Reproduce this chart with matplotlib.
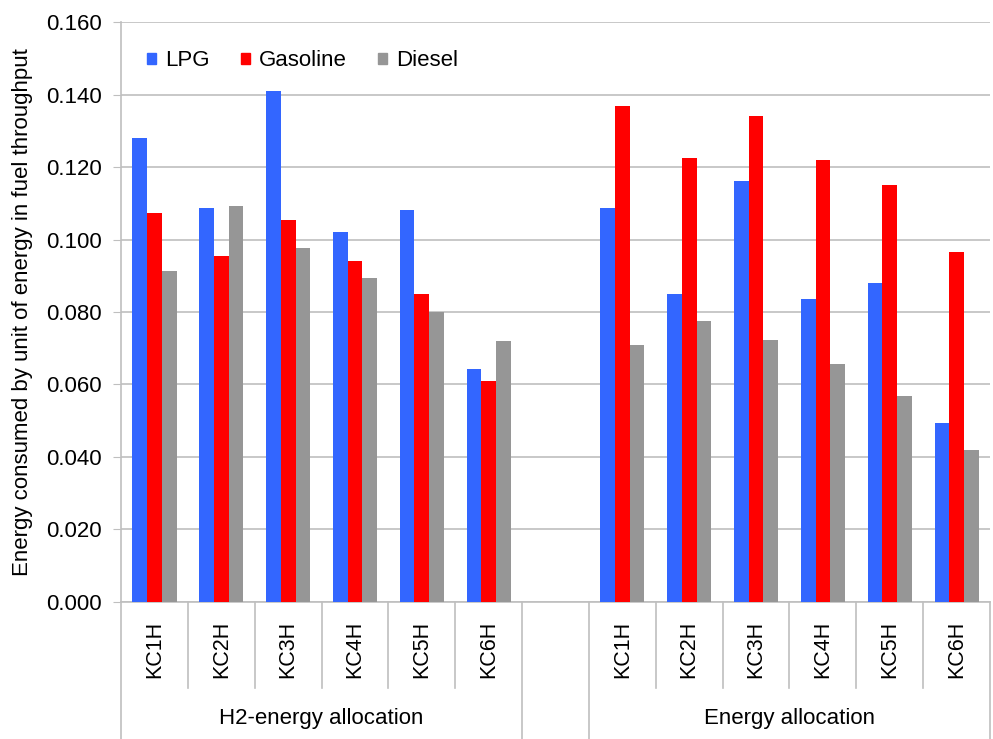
import numpy as np
import matplotlib
matplotlib.use("Agg")
import matplotlib.pyplot as plt
from matplotlib.patches import Patch

plt.rcParams['font.family'] = ['Liberation Sans', 'DejaVu Sans']

# Données
categories = ["KC1H", "KC2H", "KC3H", "KC4H", "KC5H", "KC6H"]
groupes = ["H2-energy allocation", "Energy allocation"]
series = ["LPG", "Gasoline", "Diesel"]

lpg_h2 = [0.1280, 0.1087, 0.1411, 0.1021, 0.1082, 0.0643]
gasoline_h2 = [0.1074, 0.0955, 0.1053, 0.0941, 0.0850, 0.0611]
diesel_h2 = [0.0914, 0.1093, 0.0978, 0.0893, 0.0801, 0.0719]

lpg_energy = [0.1087, 0.0850, 0.1162, 0.0836, 0.0879, 0.0494]
gasoline_energy = [0.1368, 0.1226, 0.1341, 0.1221, 0.1152, 0.0967]
diesel_energy = [0.0708, 0.0774, 0.0723, 0.0657, 0.0569, 0.0420]

couleurs = ["#3366FF", "#FF0000", "#969696"]
gris = "#BFBFBF"

fig = plt.figure(figsize=(9.93, 7.39), dpi=100)
ax = fig.add_axes([0.1219, 0.1858, 0.8751, 0.7838])

# positions : 6 catégories, une case vide, 6 catégories
x1 = np.arange(len(categories))
x2 = np.arange(len(categories)) + len(categories) + 1
largeur = 0.22

for i, (v1, v2) in enumerate([(lpg_h2, lpg_energy), (gasoline_h2, gasoline_energy), (diesel_h2, diesel_energy)]):
    decal = (i - 1) * largeur
    ax.bar(x1 + decal, v1, width=largeur, color=couleurs[i], zorder=3)
    ax.bar(x2 + decal, v2, width=largeur, color=couleurs[i], zorder=3)

ax.set_xlim(-0.5, 12.5)
ax.set_ylim(0, 0.16)
ax.set_yticks(np.arange(0, 0.161, 0.02))
ax.yaxis.set_major_formatter(matplotlib.ticker.FormatStrFormatter('%.3f'))
ax.tick_params(axis='y', length=6, color=gris, labelsize=16, pad=8)
ax.grid(axis='y', color=gris, linewidth=1.2, zorder=0)

ax.set_xticks(np.concatenate([x1, x2]))
ax.set_xticklabels(categories + categories, rotation=90, va='top', ha='center', fontsize=15.5)
ax.tick_params(axis='x', length=0, pad=14)

for cote in ['top', 'right']:
    ax.spines[cote].set_visible(False)
for cote in ['left', 'bottom']:
    ax.spines[cote].set_color(gris)
    ax.spines[cote].set_linewidth(1.2)

# séparateurs de l'axe des catégories
trans = matplotlib.transforms.blended_transform_factory(ax.transData, ax.transAxes)
for b in np.arange(-0.5, 13, 1.0):
    if b in (-0.5, 5.5, 6.5, 12.5):
        bas = -0.237
    else:
        bas = -0.149
    ax.plot([b, b], [0, bas], color=gris, linewidth=1.2, transform=trans, clip_on=False)

ax.text(x1.mean(), -0.2025, groupes[0], transform=trans, ha='center', va='center', fontsize=16)
ax.text(x2.mean(), -0.2025, groupes[1], transform=trans, ha='center', va='center', fontsize=16)

ax.set_ylabel("Energy consumed by unit of energy in fuel throughput", fontsize=16)
ax.yaxis.set_label_coords(-0.101, 0.5)

poignees = [Patch(color=c) for c in couleurs]
ax.legend(poignees, series, loc='center left', bbox_to_anchor=(0.0296, 0.934), ncol=3,
          frameon=False, fontsize=16, handlelength=0.42, handleheight=0.42,
          handletextpad=0.4, columnspacing=1.4, borderpad=0, borderaxespad=0)

plt.savefig("out.png", dpi=100)
